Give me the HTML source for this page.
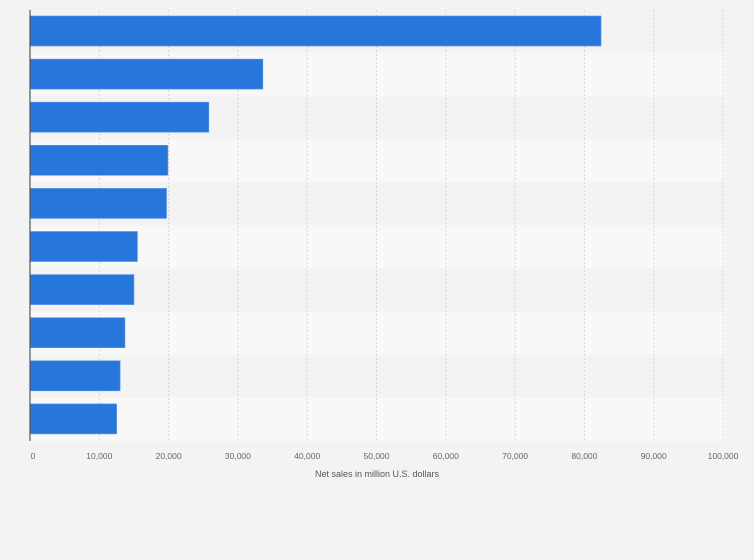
<!DOCTYPE html>
<html><head><meta charset="utf-8"><style>
body{margin:0;background:#f3f3f3;font-family:"Liberation Sans",sans-serif}
svg{display:block}
</style></head><body>
<svg width="754" height="560">
<g id="bands"></g><g id="grid"></g><g id="bars"></g><g id="ticks"></g>
<line x1="30" y1="10" x2="30" y2="441" stroke="#555" stroke-width="1.2"/>
<text x="377" y="477" text-anchor="middle" font-size="9" fill="#555">Net sales in million U.S. dollars</text>
</svg>
<script>
const values=[82400,33600,25800,19900,19700,15500,15000,13700,13000,12500];
const tickValues=[0,10000,20000,30000,40000,50000,60000,70000,80000,90000,100000];
const tickLabels=["0","10,000","20,000","30,000","40,000","50,000","60,000","70,000","80,000","90,000","100,000"];
const NS="http://www.w3.org/2000/svg";
const x0=30,x1=723,plotTop=10,plotBottom=441,xmax=100000;
const xs=v=>x0+(x1-x0)*v/xmax;
const rowH=(plotBottom-plotTop)/values.length;
const mk=(t,a,p)=>{const e=document.createElementNS(NS,t);for(const k in a)e.setAttribute(k,a[k]);document.getElementById(p).appendChild(e);return e;};
values.forEach((v,i)=>{
 const b=mk('rect',{x:x0,y:plotTop+i*rowH,width:725-x0,height:rowH,fill:i%2?'#f8f8f8':'#f3f3f3'},'bands');
 
 
});
tickValues.forEach((t,i)=>{
 if(i>0){const g=mk('line',{x1:xs(t),x2:xs(t),y1:plotTop,y2:plotBottom,stroke:'#d8d8d8','stroke-dasharray':'2,2'},'grid');
 
 }
 const tx=mk('text',{x:i==0?xs(t)+3:xs(t),y:459,'text-anchor':'middle','font-size':'8.5',fill:'#666'},'ticks');
 tx.textContent=tickLabels[i];
 
 
});
values.forEach((v,i)=>{
 const r=mk('rect',{x:x0,y:plotTop+i*rowH+6,width:xs(v)-x0,height:30,fill:'#2776db',stroke:'#5a97e6','stroke-width':'0.6'},'bars');
 
 
});
</script>
</body></html>
